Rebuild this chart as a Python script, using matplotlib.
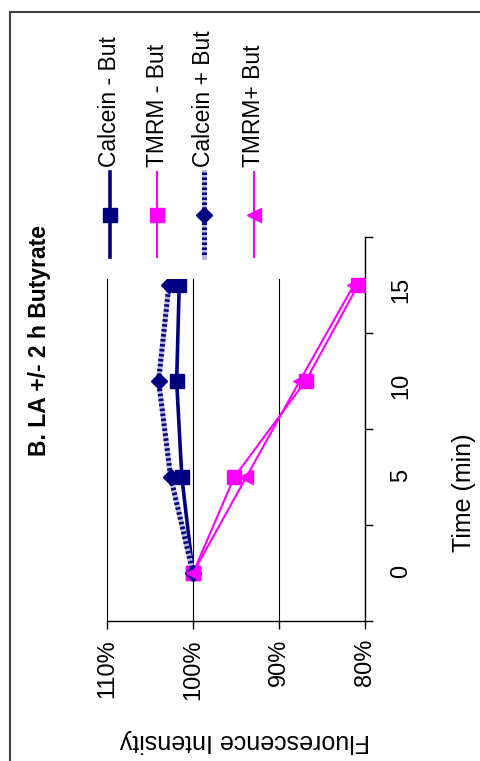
import numpy as np
import matplotlib
matplotlib.use("Agg")
import matplotlib.pyplot as plt
from matplotlib.lines import Line2D

plt.rcParams['font.family'] = ['Liberation Sans', 'DejaVu Sans']

# measurements (fraction of t=0 intensity, in %)
times = [0, 5, 10, 15]
time_labels = ['0', '5', '10', '15']
calcein_minus = [100, 101.3, 101.9, 101.6]
tmrm_minus = [100, 95.2, 86.9, 80.8]
calcein_plus = [100, 102.6, 104.0, 102.8]
tmrm_plus = [100, 93.8, 87.6, 81.3]
pct_ticks = [110, 100, 90, 80]
series_names = ['Calcein - But', 'TMRM - But', 'Calcein + But', 'TMRM+ But']

NAVY = '#000080'
MAGENTA = '#FF00FF'

W, H = 480, 761
fig = plt.figure(figsize=(W / 100, H / 100), dpi=100)


def fx(x):
    return x / W


def fy(y):
    return 1 - y / H


# page is turned on its side: time runs upward, intensity runs right-to-left
ax = fig.add_axes([fx(107), fy(621), fx(365) - fx(107), fy(237) - fy(621)])
pos = np.arange(len(times))

ax.plot(calcein_minus, pos, color=NAVY, lw=2.6, marker='s', ms=10, zorder=3)
ax.plot(tmrm_minus, pos, color=MAGENTA, lw=1.5, marker='s', ms=10, zorder=4)
# checkered line for calcein + butyrate
ax.plot(calcein_plus, pos, color='#b8b8e0', lw=3.6, zorder=5)
ax.plot(calcein_plus, pos, color=NAVY, lw=3.6, dashes=(0.5, 0.5), zorder=5)
ax.plot(calcein_plus, pos, ls='none', color=NAVY, marker='D', ms=8.5, zorder=5)
ax.plot(tmrm_plus, pos, color=MAGENTA, lw=1.5, marker='<', ms=10, zorder=6)

ax.set_xlim(110, 80)
ax.set_ylim(-0.5, len(times) - 0.5)
ax.set_xticks(pct_ticks)
ax.set_xticklabels([f'{p}%' for p in pct_ticks])
ax.tick_params(axis='x', direction='out', length=6, width=1, pad=7,
               labelsize=17, labelrotation=90)
ax.grid(axis='x', color='black', lw=0.8)
ax.set_axisbelow(True)

ax.yaxis.tick_right()
ax.set_yticks(np.arange(-0.5, len(times), 1))
ax.set_yticklabels([])
ax.set_yticks(pos, minor=True)
ax.set_yticklabels(time_labels, minor=True)
ax.tick_params(axis='y', which='major', direction='out', length=6, width=1,
               right=True, left=False)
ax.tick_params(axis='y', which='minor', length=0, pad=18, labelsize=17,
               labelrotation=90, right=True, left=False, labelright=True,
               labelleft=False)

for side in ['left', 'top']:
    ax.spines[side].set_visible(False)
for side in ['right', 'bottom']:
    ax.spines[side].set_linewidth(1)

# legend box (white, sits over the top of the plot area)
lax = fig.add_axes([fx(85), fy(279), fx(300) - fx(85), fy(15) - fy(279)],
                   zorder=5)
lax.set_xlim(85, 300)
lax.set_ylim(279, 15)
lax.set_xticks([])
lax.set_yticks([])
for s in lax.spines.values():
    s.set_visible(False)
lax.set_facecolor('white')

leg_x = [110, 157, 204, 254]
for i, (name, xc) in enumerate(zip(series_names, leg_x)):
    if i == 0:
        lax.plot([xc, xc], [172, 257], color=NAVY, lw=2.6)
        lax.plot([xc], [215], color=NAVY, marker='s', ms=10)
    elif i == 1:
        lax.plot([xc, xc], [172, 257], color=MAGENTA, lw=1.5)
        lax.plot([xc], [215], color=MAGENTA, marker='s', ms=10)
    elif i == 2:
        lax.plot([xc, xc], [172, 257], color='#b8b8e0', lw=3.6)
        lax.plot([xc, xc], [172, 257], color=NAVY, lw=3.6, dashes=(0.5, 0.5))
        lax.plot([xc], [215], color=NAVY, marker='D', ms=8.5)
    else:
        lax.plot([xc, xc], [172, 257], color=MAGENTA, lw=1.5)
        lax.plot([xc], [215], color=MAGENTA, marker='<', ms=10)
    lax.text(xc, 167, name, rotation=90, ha='center', va='bottom',
             fontsize=16.5)

fig.text(fx(40), fy(341), 'B. LA +/- 2 h Butyrate', rotation=90,
         ha='center', va='center', fontsize=16.5, fontweight='bold')
fig.text(fx(464), fy(493), 'Time (min)', rotation=90,
         ha='center', va='center', fontsize=18)
fig.text(fx(245), fy(741), 'Fluorescence Intensity', rotation=180,
         ha='center', va='center', fontsize=18)

# outer frame (only top and left edges fall inside the page)
fig.add_artist(Line2D([fx(10), fx(10)], [fy(12), 0], color='#404040', lw=1.5))
fig.add_artist(Line2D([fx(10), 1], [fy(12), fy(12)], color='#404040', lw=1.5))

fig.savefig('out.png', dpi=100)
